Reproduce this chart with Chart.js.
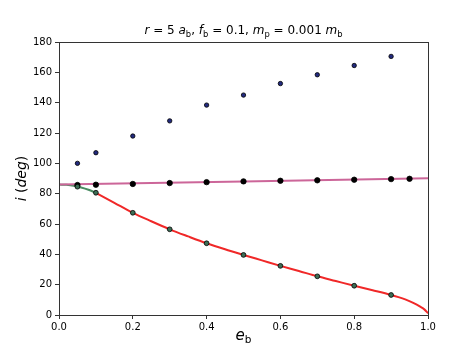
<!DOCTYPE html>
<html>
<head>
<meta charset="utf-8">
<script src="https://cdn.jsdelivr.net/npm/chart.js@4"></script>
<style>
  html, body { margin: 0; padding: 0; background: #fff; }
  #wrap { width: 474px; height: 355px; }
</style>
</head>
<body>
<div id="wrap"><canvas id="mychart"></canvas></div>
<script>
// eccentricities of the simulated runs
const eRuns = [0.05, 0.1, 0.2, 0.3, 0.4, 0.5, 0.6, 0.7, 0.8, 0.9];
const eRunsBlack = [0.05, 0.1, 0.2, 0.3, 0.4, 0.5, 0.6, 0.7, 0.8, 0.9, 0.95];

// inclinations (deg)
const iUpper = [100, 107, 118, 128, 138.4, 145, 152.6, 158.4, 164.5, 170.5];
const iBlack = [85.7, 85.9, 86.4, 87, 87.6, 88.1, 88.5, 88.8, 89.2, 89.6, 89.8];
const iGreen = [84.6, 80.6, 67.4, 56.5, 47.3, 39.6, 32.4, 25.5, 19.3, 13.2];

// analytic curves
const eGreenCurve = [0, 0.02, 0.04, 0.06, 0.08, 0.1];
const iGreenCurve = [86, 85.8, 85.2, 84.1, 82.6, 80.6];
const eRedCurve = [0.1, 0.15, 0.2, 0.25, 0.3, 0.35, 0.4, 0.45, 0.5, 0.55, 0.6, 0.65, 0.7, 0.75, 0.8, 0.85, 0.9, 0.92, 0.94, 0.96, 0.98, 0.99, 1.0];
const iRedCurve = [80.6, 74, 67.4, 61.8, 56.5, 51.8, 47.3, 43.3, 39.6, 36, 32.4, 29, 25.5, 22.4, 19.3, 16.3, 13.2, 11.8, 10.1, 8, 5.3, 3.7, 1.2];
const ePinkCurve = [0, 0.5, 1.0];
const iPinkCurve = [86, 88.1, 90.2];

const xTicks = [0, 0.2, 0.4, 0.6, 0.8, 1.0];

const pts = (xs, ys) => xs.map((x, k) => ({ x: x, y: ys[k] }));
const FONT = "'DejaVu Sans', sans-serif";

// draw a run of text pieces, some italic, some subscript
function richText(ctx, parts, cx, y, size) {
  const widths = parts.map((p) => {
    ctx.font = (p.it ? "italic " : "") + (p.sub ? size * 0.7 : size) + "px " + FONT;
    return ctx.measureText(p.t).width;
  });
  let x = cx - widths.reduce((a, b) => a + b, 0) / 2;
  parts.forEach((p, k) => {
    ctx.font = (p.it ? "italic " : "") + (p.sub ? size * 0.7 : size) + "px " + FONT;
    ctx.fillText(p.t, x, p.sub ? y + size * 0.22 : y);
    x += widths[k];
  });
}

const decorations = {
  id: "decorations",
  afterDraw(chart) {
    const ctx = chart.ctx;
    const a = chart.chartArea;
    ctx.save();
    ctx.strokeStyle = "#333";
    ctx.lineWidth = 1;
    ctx.strokeRect(a.left + 0.5, a.top + 0.5, a.right - a.left, a.bottom - a.top);
    ctx.fillStyle = "#000";
    ctx.textBaseline = "alphabetic";
    richText(ctx, [
      { t: "r", it: true }, { t: " = 5 " }, { t: "a", it: true }, { t: "b", sub: true },
      { t: ", " }, { t: "f", it: true }, { t: "b", sub: true }, { t: " = 0.1, " },
      { t: "m", it: true }, { t: "p", sub: true }, { t: " = 0.001 " },
      { t: "m", it: true }, { t: "b", sub: true },
    ], (a.left + a.right) / 2, 34, 12);
    richText(ctx, [{ t: "e", it: true }, { t: "b", sub: true }], (a.left + a.right) / 2, 340, 15);
    ctx.translate(26, (a.top + a.bottom) / 2);
    ctx.rotate(-Math.PI / 2);
    richText(ctx, [{ t: "i", it: true }, { t: " (" }, { t: "deg", it: true }, { t: ")" }], 0, 0, 14);
    ctx.restore();
  },
};

const chart1 = document.getElementById("mychart").getContext("2d");

new Chart(chart1, {
  type: "scatter",
  data: {
    datasets: [
      {
        label: "upper",
        data: pts(eRuns, iUpper),
        backgroundColor: "#222a7e",
        borderColor: "#000",
        borderWidth: 0.8,
        pointRadius: 2.2,
        order: 1,
      },
      {
        label: "black",
        data: pts(eRunsBlack, iBlack),
        backgroundColor: "#000",
        borderColor: "#000",
        borderWidth: 0.8,
        pointRadius: 2.7,
        order: 1,
      },
      {
        label: "green",
        data: pts(eRuns, iGreen),
        backgroundColor: "#3c6e55",
        borderColor: "#000",
        borderWidth: 0.8,
        pointRadius: 2.4,
        order: 0,
      },
      {
        label: "pink curve",
        data: pts(ePinkCurve, iPinkCurve),
        showLine: true,
        borderColor: "#cc6699",
        borderWidth: 2,
        pointRadius: 0,
        order: 3,
      },
      {
        label: "green curve",
        data: pts(eGreenCurve, iGreenCurve),
        showLine: true,
        borderColor: "#4a8c62",
        borderWidth: 2,
        pointRadius: 0,
        cubicInterpolationMode: "monotone",
        order: 3,
      },
      {
        label: "red curve",
        data: pts(eRedCurve, iRedCurve),
        showLine: true,
        borderColor: "#f02828",
        borderWidth: 2,
        pointRadius: 0,
        cubicInterpolationMode: "monotone",
        order: 3,
      },
    ],
  },
  options: {
    responsive: true,
    maintainAspectRatio: false,
    animation: false,
    layout: { padding: { top: 42, right: 46, left: 0, bottom: 0 } },
    plugins: {
      legend: { display: false },
      tooltip: { enabled: false },
    },
    scales: {
      x: {
        type: "linear",
        min: 0,
        max: 1,
        afterBuildTicks: (scale) => {
          scale.ticks = xTicks.map((v) => ({ value: v }));
        },
        afterFit: (scale) => { scale.height = 40; },
        ticks: {
          color: "#000",
          font: { family: FONT, size: 10 },
          padding: 2,
          maxRotation: 0,
          callback: (v) => v.toFixed(1),
        },
        grid: { drawOnChartArea: false, tickLength: 4, color: "#333" },
        border: { color: "#333" },
      },
      y: {
        min: 0,
        max: 180,
        afterFit: (scale) => { scale.width = 59; },
        ticks: {
          stepSize: 20,
          color: "#000",
          font: { family: FONT, size: 10 },
          padding: 3,
        },
        grid: { drawOnChartArea: false, tickLength: 4, color: "#333" },
        border: { color: "#333" },
      },
    },
  },
  plugins: [decorations],
});
</script>
</body>
</html>
